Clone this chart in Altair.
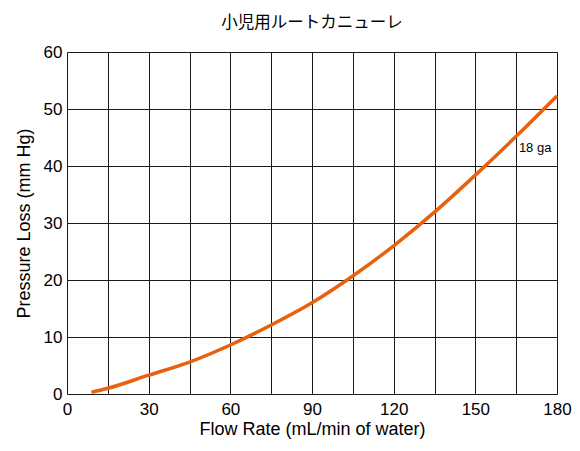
import altair as alt
import pandas as pd

flow = [9, 15, 30, 45, 60, 75, 90, 105, 120, 135, 150, 165, 180]
pressure = [0.3, 1.0, 3.3, 5.6, 8.6, 12.1, 16.0, 20.7, 26.0, 31.9, 38.4, 45.2, 52.3]
label_text = ["18 ga"]
label_x = [166]
label_y = [43.2]

df = pd.DataFrame({"flow": flow, "pressure": pressure})
lab = pd.DataFrame({"x": label_x, "y": label_y, "t": label_text})

FONT = "Liberation Sans"

xs = alt.Scale(domain=[0, 180], nice=False)
ys = alt.Scale(domain=[0, 60], nice=False)

line = alt.Chart(df).mark_line(color="#E8610F", strokeWidth=3.5, interpolate="monotone").encode(
    x=alt.X("flow:Q", scale=xs, title="Flow Rate (mL/min of water)",
            axis=alt.Axis(values=list(range(0, 181, 15)),
                          labelExpr="datum.value % 30 == 0 ? datum.label : ''",
                          grid=True, gridColor="#1a1a1a", gridWidth=1, gridOpacity=1,
                          tickSize=0, labelPadding=7, labelFontSize=17, titleFontSize=18,
                          labelFont=FONT, titleFont=FONT, titleFontWeight="normal",
                          labelColor="black", titleColor="black", titlePadding=3,
                          domain=False, labelFlush=False)),
    y=alt.Y("pressure:Q", scale=ys, title="Pressure Loss (mm Hg)",
            axis=alt.Axis(values=list(range(0, 61, 10)),
                          grid=True, gridColor="#1a1a1a", gridWidth=1, gridOpacity=1,
                          tickSize=0, labelPadding=5, labelFontSize=17, titleFontSize=18,
                          labelFont=FONT, titleFont=FONT, titleFontWeight="normal",
                          labelColor="black", titleColor="black", titlePadding=10,
                          domain=False, labelFlush=False)),
)

text = alt.Chart(lab).mark_text(align="left", baseline="middle", fontSize=13, font=FONT, color="black").encode(
    x=alt.X("x:Q", scale=xs), y=alt.Y("y:Q", scale=ys), text="t:N"
)

chart = (line + text).properties(
    width=490, height=342,
    title=alt.TitleParams("小児用ルートカニューレ", font="Noto Sans CJK JP", fontSize=16.5,
                          fontWeight="normal", color="black", offset=12),
    padding={"left": 59, "top": 44, "right": 15, "bottom": 50},
    autosize=alt.AutoSizeParams(type="none"),
).configure_view(stroke="black", strokeWidth=2.5).configure(background="white")

chart.save("out.html", embed_options={"renderer": "svg", "actions": False})
